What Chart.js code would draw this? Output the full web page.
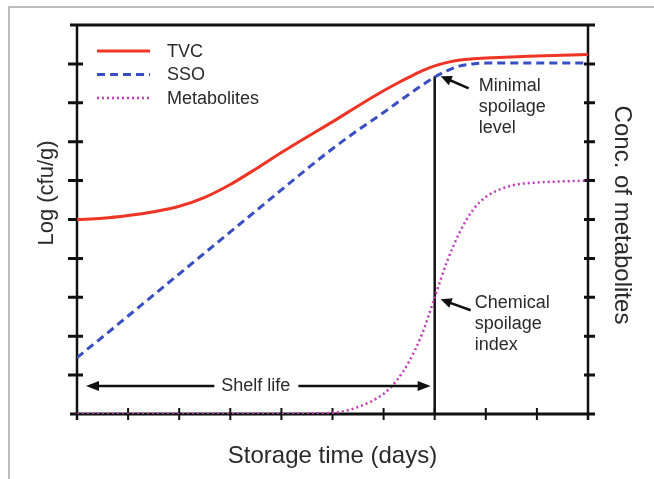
<!DOCTYPE html>
<html>
<head>
<meta charset="utf-8">
<script src="https://cdn.jsdelivr.net/npm/chart.js@4.4.1/dist/chart.umd.min.js"></script>
<style>
  html, body { margin: 0; padding: 0; background: #ffffff; }
  canvas { display: block; }
</style>
</head>
<body>
<canvas id="chart" width="654" height="479"></canvas>
<script>
// values (x in day units 0..10, y on a 0..10 scale)
const days = [0, 0.5, 1, 1.5, 2, 2.5, 3, 3.5, 4, 4.5, 5, 5.5, 6, 6.25, 6.5, 6.75, 7, 7.25, 7.5, 7.75, 8, 8.5, 9, 9.5, 10];
const tvc = [5.0, 5.03, 5.1, 5.2, 5.34, 5.57, 5.9, 6.3, 6.72, 7.12, 7.51, 7.92, 8.31, 8.49, 8.66, 8.82, 8.95, 9.04, 9.1, 9.13, 9.15, 9.18, 9.2, 9.22, 9.24];
const sso = [1.45, 1.98, 2.52, 3.06, 3.6, 4.14, 4.68, 5.22, 5.76, 6.3, 6.82, 7.3, 7.75, 7.99, 8.22, 8.45, 8.66, 8.83, 8.95, 9.0, 9.02, 9.02, 9.02, 9.02, 9.02];
const metabolites = [0, 0, 0, 0, 0, 0, 0, 0, 0, 0.01, 0.03, 0.18, 0.52, 0.85, 1.35, 2.05, 3.0, 3.95, 4.7, 5.25, 5.58, 5.87, 5.95, 5.98, 6.0];

const xTicks = [0, 1, 2, 3, 4, 5, 6, 7, 8, 9, 10];
const yTicks = [1, 2, 3, 4, 5, 6, 7, 8, 9];

const shelfLifeDay = 7;
const shelfLifeTop = 8.68;     // where the SSO curve meets the vertical line
const arrowLevel = 0.72;       // height of the "Shelf life" arrow
const chemicalIndex = 2.95;    // metabolite level at the end of shelf life

const seriesNames = ["TVC", "SSO", "Metabolites"];

const toPoints = (ys) => days.map((d, i) => ({ x: d, y: ys[i] }));

const fontFamily = "'Liberation Sans', Arial, Helvetica, sans-serif";
const textColor = "#2a2a2a";

function arrowHead(ctx, x1, y1, x2, y2, len, wid) {
    // filled triangle pointing at (x2, y2)
    const a = Math.atan2(y2 - y1, x2 - x1);
    ctx.beginPath();
    ctx.moveTo(x2, y2);
    ctx.lineTo(x2 - len * Math.cos(a) + wid * Math.sin(a), y2 - len * Math.sin(a) - wid * Math.cos(a));
    ctx.lineTo(x2 - len * Math.cos(a) - wid * Math.sin(a), y2 - len * Math.sin(a) + wid * Math.cos(a));
    ctx.closePath();
    ctx.fill();
}

const framePlugin = {
    id: "frame",
    beforeDatasetsDraw(chart) {
        const ctx = chart.ctx;
        const area = chart.chartArea;
        const x = chart.scales.x;
        const y = chart.scales.y;

        ctx.save();
        // light page frame
        ctx.strokeStyle = "#a8a8a8";
        ctx.lineWidth = 1.5;
        ctx.beginPath();
        ctx.moveTo(9, chart.height);
        ctx.lineTo(9, 7);
        ctx.lineTo(chart.width, 7);
        ctx.stroke();

        // box axes
        ctx.strokeStyle = "#111";
        ctx.lineWidth = 3;
        ctx.beginPath();
        ctx.moveTo(area.left - 7, area.top);
        ctx.lineTo(area.right + 7, area.top);
        ctx.moveTo(area.left - 7, area.bottom);
        ctx.lineTo(area.right + 7, area.bottom);
        ctx.stroke();
        ctx.lineWidth = 2.5;
        ctx.beginPath();
        ctx.moveTo(area.left, area.top);
        ctx.lineTo(area.left, area.bottom + 6);
        ctx.moveTo(area.right, area.top);
        ctx.lineTo(area.right, area.bottom + 6);
        ctx.stroke();

        // x ticks crossing the axis
        ctx.lineWidth = 2;
        ctx.beginPath();
        xTicks.forEach(t => {
            const px = x.getPixelForValue(t);
            ctx.moveTo(px, area.bottom - 6);
            ctx.lineTo(px, area.bottom + 6);
        });
        ctx.stroke();

        // y ticks on both sides
        ctx.lineWidth = 3;
        ctx.beginPath();
        yTicks.forEach(t => {
            const py = y.getPixelForValue(t);
            ctx.moveTo(area.left - 9, py);
            ctx.lineTo(area.left + 6, py);
            ctx.moveTo(area.right - 4, py);
            ctx.lineTo(area.right + 7, py);
        });
        ctx.stroke();
        ctx.restore();
    },
    afterDatasetsDraw(chart) {
        const ctx = chart.ctx;
        const area = chart.chartArea;
        const x = chart.scales.x;
        const y = chart.scales.y;

        ctx.save();
        ctx.fillStyle = textColor;

        // axis titles
        ctx.font = "24px " + fontFamily;
        ctx.textAlign = "center";
        ctx.textBaseline = "alphabetic";
        ctx.fillText("Storage time (days)", (area.left + area.right) / 2, 463);

        ctx.save();
        ctx.translate(53, 193);
        ctx.rotate(-Math.PI / 2);
        ctx.font = "22px " + fontFamily;
        ctx.fillText("Log (cfu/g)", 0, 0);
        ctx.restore();

        ctx.save();
        ctx.translate(615, 215);
        ctx.rotate(Math.PI / 2);
        ctx.font = "24px " + fontFamily;
        ctx.fillText("Conc. of metabolites", 0, 0);
        ctx.restore();

        // legend drawn from the dataset styles
        ctx.font = "18px " + fontFamily;
        ctx.textAlign = "left";
        ctx.textBaseline = "middle";
        chart.data.datasets.slice(0, 3).forEach((ds, i) => {
            const rowY = 51 + i * 23.5;
            ctx.save();
            ctx.strokeStyle = ds.borderColor;
            ctx.lineWidth = ds.borderWidth;
            ctx.setLineDash(ds.borderDash || []);
            ctx.beginPath();
            ctx.moveTo(97, rowY);
            ctx.lineTo(150, rowY);
            ctx.stroke();
            ctx.restore();
            ctx.fillText(ds.label, 167, rowY + 1);
        });

        // shelf life double arrow
        const ay = y.getPixelForValue(arrowLevel);
        const ax1 = x.getPixelForValue(0) + 9;
        const ax2 = x.getPixelForValue(shelfLifeDay) - 4;
        ctx.font = "18px " + fontFamily;
        ctx.textAlign = "center";
        const label = "Shelf life";
        const lx = x.getPixelForValue(3.5);
        const lw = ctx.measureText(label).width;
        ctx.fillText(label, lx, ay);
        ctx.strokeStyle = "#111";
        ctx.fillStyle = "#111";
        ctx.lineWidth = 2.5;
        ctx.beginPath();
        ctx.moveTo(ax1 + 6, ay);
        ctx.lineTo(lx - lw / 2 - 7, ay);
        ctx.moveTo(lx + lw / 2 + 8, ay);
        ctx.lineTo(ax2 - 6, ay);
        ctx.stroke();
        arrowHead(ctx, ax2 - 20, ay, ax2, ay, 13, 5);
        arrowHead(ctx, ax1 + 20, ay, ax1, ay, 13, 5);

        // callout arrows
        const sx = x.getPixelForValue(shelfLifeDay);
        const topY = y.getPixelForValue(shelfLifeTop);
        const chemY = y.getPixelForValue(chemicalIndex);
        ctx.lineWidth = 2.5;
        [[topY, 28, 12], [chemY, 30, 11]].forEach(([py, dx, dy]) => {
            const tx = sx + 6, ty = py;
            ctx.beginPath();
            ctx.moveTo(tx + dx, ty + dy);
            ctx.lineTo(tx + 6, ty + 2.4);
            ctx.stroke();
            arrowHead(ctx, tx + dx, ty + dy, tx, ty, 11, 5);
        });

        ctx.fillStyle = textColor;
        ctx.textAlign = "left";
        ctx.textBaseline = "alphabetic";
        ["Minimal", "spoilage", "level"].forEach((t, i) => ctx.fillText(t, sx + 44, topY + 15 + i * 21));
        ["Chemical", "spoilage", "index"].forEach((t, i) => ctx.fillText(t, sx + 40, chemY + 9 + i * 21));

        ctx.restore();
    }
};

new Chart(document.getElementById("chart"), {
    type: "line",
    data: {
        datasets: [
            {
                label: seriesNames[0],
                data: toPoints(tvc),
                borderColor: "#ee3424",
                borderWidth: 3,
                yAxisID: "y"
            },
            {
                label: seriesNames[1],
                data: toPoints(sso),
                borderColor: "#3a4ec4",
                borderWidth: 3,
                borderDash: [8, 5],
                yAxisID: "y"
            },
            {
                label: seriesNames[2],
                data: toPoints(metabolites),
                borderColor: "#c43ab4",
                borderWidth: 2.5,
                borderDash: [2, 3],
                yAxisID: "y2"
            },
            {
                label: "limit",
                data: [{ x: shelfLifeDay, y: shelfLifeTop }, { x: shelfLifeDay, y: 0 }],
                borderColor: "#111",
                borderWidth: 2.5,
                cubicInterpolationMode: "default",
                tension: 0,
                yAxisID: "y"
            }
        ]
    },
    options: {
        responsive: false,
        animation: false,
        layout: { padding: { left: 77, right: 66, top: 25, bottom: 65 } },
        elements: {
            point: { radius: 0 },
            line: { cubicInterpolationMode: "monotone" }
        },
        scales: {
            x: { type: "linear", min: 0, max: 10, display: false },
            y: { min: 0, max: 10, display: false },
            y2: { min: 0, max: 10, display: false, position: "right" }
        },
        plugins: {
            legend: { display: false },
            tooltip: { enabled: false }
        }
    },
    plugins: [framePlugin]
});
</script>
</body>
</html>
